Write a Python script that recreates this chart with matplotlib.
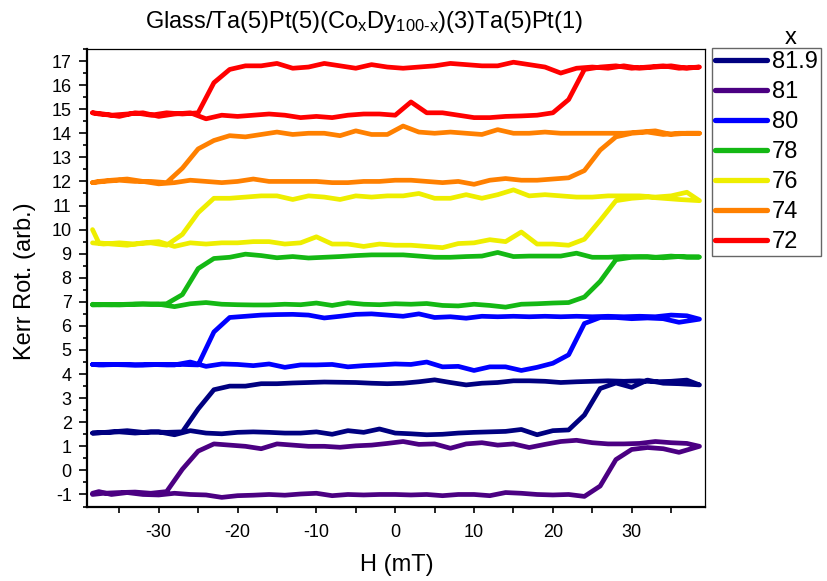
import numpy as np
import matplotlib.pyplot as plt
from matplotlib.ticker import MultipleLocator

plt.rcParams['font.family'] = ['Liberation Sans', 'DejaVu Sans']
plt.rcParams['axes.unicode_minus'] = False
plt.rcParams['mathtext.fontset'] = 'custom'
plt.rcParams['mathtext.rm'] = 'Liberation Sans'
plt.rcParams['mathtext.it'] = 'Liberation Sans:italic'

# field sweep, increasing branch then decreasing branch (mT)
H_inc = [-38.4, -37.6, -36, -34, -32, -30, -28, -26, -24, -22,
         -20, -18, -16, -14, -12, -10, -8, -6, -4, -2,
         0, 2, 4, 6, 8, 10, 12, 14, 16, 18,
         20, 22, 24, 26, 28, 30, 32, 34, 36, 38.6]
H_dec = [37, 35, 33, 31, 29, 27, 25, 23, 21, 19,
         17, 15, 13, 11, 9, 7, 5, 3, 1, -1,
         -3, -5, -7, -9, -11, -13, -15, -17, -19, -21,
         -23, -25, -27, -29, -31, -33, -35, -37, -38.4]

labels = ['81.9', '81', '80', '78', '76', '74', '72']
colors = ['#000080', '#4B0082', '#0000FF', '#14B814', '#EEEE00', '#FF8000', '#FF0000']

# Kerr rotation, increasing-field branch (offset per composition)
k_up = {
    '81.9': [1.55, 1.56, 1.6, 1.65, 1.58, 1.6, 1.48, 1.65, 1.55, 1.52,
             1.58, 1.6, 1.58, 1.55, 1.55, 1.6, 1.5, 1.65, 1.58, 1.72,
             1.55, 1.52, 1.48, 1.5, 1.55, 1.58, 1.6, 1.62, 1.7, 1.48,
             1.65, 1.68, 2.3, 3.4, 3.63, 3.45, 3.75, 3.62, 3.6, 3.55],
    '81': [-0.95, -0.88, -1.0, -0.92, -1.0, -1.02, -0.95, -1.0, -1.02, -1.12,
           -1.05, -1.03, -1.0, -1.03, -0.98, -0.95, -1.05, -1.0, -1.02, -1.0,
           -1.0, -1.02, -1.0, -1.05, -1.0, -1.0, -1.05, -0.92, -0.95, -1.0,
           -1.02, -1.0, -1.08, -0.65, 0.45, 0.87, 0.95, 0.9, 0.75, 1.0],
    '80': [4.4, 4.38, 4.4, 4.38, 4.37, 4.4, 4.38, 4.5, 4.32, 4.42,
           4.4, 4.35, 4.42, 4.28, 4.38, 4.38, 4.4, 4.3, 4.35, 4.38,
           4.42, 4.4, 4.5, 4.3, 4.32, 4.15, 4.3, 4.3, 4.15, 4.28,
           4.45, 4.8, 6.1, 6.35, 6.35, 6.3, 6.33, 6.3, 6.15, 6.28],
    '78': [6.9, 6.88, 6.88, 6.9, 6.92, 6.9, 6.8, 6.92, 6.97, 6.9,
           6.88, 6.87, 6.87, 6.9, 6.88, 6.95, 6.85, 6.96, 6.9, 6.88,
           6.92, 6.9, 6.93, 6.85, 6.83, 6.9, 6.85, 6.78, 6.9, 6.92,
           6.95, 6.97, 7.2, 7.85, 8.75, 8.85, 8.87, 8.83, 8.88, 8.86],
    '76': [10.0, 9.45, 9.4, 9.35, 9.45, 9.5, 9.3, 9.45, 9.4, 9.45,
           9.45, 9.5, 9.5, 9.4, 9.45, 9.7, 9.4, 9.4, 9.3, 9.4,
           9.35, 9.35, 9.3, 9.25, 9.42, 9.45, 9.58, 9.5, 9.9, 9.4,
           9.4, 9.35, 9.6, 10.38, 11.2, 11.3, 11.35, 11.3, 11.25, 11.2],
    '74': [11.95, 12.0, 12.05, 12.1, 12.0, 11.9, 11.95, 12.05, 12.0, 11.95,
           12.0, 12.1, 12.0, 12.0, 12.0, 12.0, 11.95, 11.95, 12.0, 12.0,
           12.05, 12.05, 12.0, 11.95, 12.0, 11.88, 12.05, 12.12, 12.05, 12.05,
           12.1, 12.15, 12.45, 13.3, 13.85, 14.0, 14.05, 13.95, 14.0, 14.0],
    '72': [14.85, 14.8, 14.75, 14.8, 14.85, 14.7, 14.8, 14.85, 14.6, 14.75,
           14.7, 14.75, 14.8, 14.75, 14.65, 14.7, 14.65, 14.75, 14.8, 14.8,
           14.75, 15.3, 14.85, 14.85, 14.75, 14.65, 14.65, 14.7, 14.72, 14.75,
           14.85, 15.4, 16.65, 16.75, 16.8, 16.7, 16.75, 16.8, 16.7, 16.75],
}

# decreasing-field branch
k_down = {
    '81.9': [3.75, 3.7, 3.68, 3.72, 3.7, 3.72, 3.7, 3.68, 3.65, 3.7,
             3.72, 3.72, 3.65, 3.62, 3.55, 3.65, 3.76, 3.68, 3.62, 3.6,
             3.62, 3.65, 3.66, 3.67, 3.65, 3.63, 3.6, 3.6, 3.5, 3.5,
             3.35, 2.55, 1.6, 1.58, 1.6, 1.55, 1.6, 1.57, 1.55],
    '81': [1.12, 1.15, 1.2, 1.12, 1.1, 1.1, 1.15, 1.25, 1.2, 1.08,
           0.95, 1.1, 1.05, 1.15, 1.1, 0.92, 1.1, 1.08, 1.2, 1.12,
           1.05, 1.02, 0.96, 1.0, 1.0, 1.05, 1.1, 0.9, 1.0, 1.05,
           1.1, 0.8, 0.05, -0.88, -0.95, -0.9, -0.92, -0.95, -1.0],
    '80': [6.42, 6.45, 6.38, 6.4, 6.38, 6.4, 6.38, 6.4, 6.38, 6.4,
           6.38, 6.4, 6.38, 6.4, 6.32, 6.38, 6.35, 6.5, 6.4, 6.45,
           6.5, 6.48, 6.4, 6.33, 6.45, 6.48, 6.47, 6.45, 6.4, 6.35,
           5.75, 4.38, 4.4, 4.38, 4.4, 4.38, 4.4, 4.38, 4.4],
    '78': [8.85, 8.9, 8.85, 8.87, 8.88, 8.85, 8.85, 9.02, 8.9, 8.9,
           8.9, 8.88, 9.05, 8.9, 8.88, 8.85, 8.85, 8.9, 8.95, 8.95,
           8.95, 8.92, 8.88, 8.85, 8.82, 8.88, 8.83, 8.92, 8.98, 8.85,
           8.8, 8.38, 7.3, 6.92, 6.9, 6.9, 6.87, 6.88, 6.87],
    '76': [11.55, 11.4, 11.35, 11.4, 11.4, 11.4, 11.35, 11.35, 11.4, 11.45,
           11.4, 11.65, 11.45, 11.3, 11.45, 11.3, 11.3, 11.5, 11.4, 11.4,
           11.35, 11.4, 11.25, 11.35, 11.4, 11.25, 11.4, 11.4, 11.35, 11.3,
           11.3, 10.7, 9.8, 9.35, 9.45, 9.4, 9.45, 9.4, 9.45],
    '74': [14.0, 13.95, 14.1, 14.05, 14.0, 14.0, 14.0, 14.0, 14.0, 14.05,
           14.0, 14.0, 14.15, 13.95, 14.0, 14.05, 14.0, 14.05, 14.3, 13.95,
           13.95, 14.1, 13.9, 14.0, 14.0, 13.95, 14.05, 13.95, 13.85, 13.9,
           13.7, 13.35, 12.55, 11.95, 12.0, 12.0, 12.05, 12.0, 11.95],
    '72': [16.7, 16.8, 16.75, 16.7, 16.8, 16.7, 16.75, 16.7, 16.5, 16.75,
           16.85, 16.95, 16.8, 16.8, 16.85, 16.9, 16.8, 16.75, 16.7, 16.75,
           16.85, 16.7, 16.8, 16.9, 16.75, 16.7, 16.9, 16.8, 16.8, 16.65,
           16.1, 14.85, 14.8, 14.85, 14.75, 14.85, 14.7, 14.8, 14.85],
}

fig = plt.figure(figsize=(8.27, 5.81), dpi=100)
ax = fig.add_axes([87 / 827, 1 - 507 / 581, 618 / 827, 458.5 / 581])

for lab, col in zip(labels, colors):
    ax.plot(H_inc + H_dec, k_up[lab] + k_down[lab], color=col, lw=3.4,
            label=lab, solid_joinstyle='round', solid_capstyle='round')

ax.set_xlim(-39.1, 39.3)
ax.set_ylim(-1.52, 17.52)
ax.xaxis.set_major_locator(MultipleLocator(10))
ax.xaxis.set_minor_locator(MultipleLocator(5))
ax.yaxis.set_major_locator(MultipleLocator(1))
ax.yaxis.set_minor_locator(MultipleLocator(0.5))
ax.tick_params(axis='x', which='both', direction='out', length=4, width=1.2,
               labelsize=13, pad=8, top=False)
ax.tick_params(axis='y', which='major', direction='out', length=6, width=1.2,
               labelsize=13, pad=5, right=False)
ax.tick_params(axis='y', which='minor', direction='out', length=3, width=1.2, right=False)

for s in ['left', 'bottom']:
    ax.spines[s].set_linewidth(1.6)
for s in ['top', 'right']:
    ax.spines[s].set_linewidth(0.9)

fig.text(397 / 827, 1 - 565 / 581, 'H (mT)', ha='center', va='center', fontsize=17)
fig.text(25 / 827, 1 - 281 / 581, 'Kerr Rot. (arb.)', ha='center', va='center',
         rotation=90, fontsize=17)
fig.text(364 / 827, 1 - 22 / 581,
         r'Glass/Ta(5)Pt(5)(Co$_\mathregular{x}$Dy$_\text{100-x}$)(3)Ta(5)Pt(1)',
         ha='center', va='center', fontsize=17)

leg = ax.legend(loc='upper left', bbox_to_anchor=(712 / 827, 1 - 48.3 / 581),
                bbox_transform=fig.transFigure, borderaxespad=0, frameon=True,
                fancybox=False, edgecolor='#404040', fontsize=17, handlelength=2.2,
                handletextpad=0.22, labelspacing=0.34, borderpad=0.12)
leg.get_frame().set_linewidth(1.0)
for h in leg.get_lines():
    h.set_linewidth(3.8)
fig.text(791 / 827, 1 - 38 / 581, 'x', ha='center', va='center', fontsize=17)

fig.savefig('out.png', dpi=100)
